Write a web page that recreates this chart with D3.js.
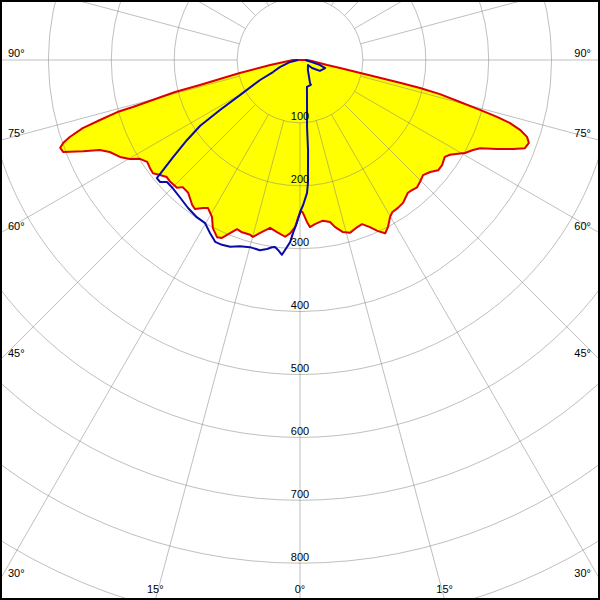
<!DOCTYPE html>
<html><head><meta charset="utf-8">
<script src="https://cdn.jsdelivr.net/npm/d3@7"></script>
<style>
html,body{margin:0;padding:0;background:#fff;}
svg{display:block;}
text{font-family:"Liberation Sans",Arial,sans-serif;font-size:11px;fill:#000;}
</style></head>
<body>
<svg id="chart" width="600" height="600"></svg>
<script>
// ---- data (angle from nadir in degrees, intensity in cd) ----
const redAngles = [-90,-80.5,-77.8,-76,-75.6,-74.3,-74.1,-73.3,-72.6,-71.5,-70.7,-69.9,-68.8,-67.2,-65.8,-64.2,-61.7,-59.8,-58.3,-56.3,-54.2,-52.4,-50.6,-48.7,-46.8,-43.9,-42.7,-40.1,-36.7,-35.2,-33.2,-31.9,-29.3,-27.4,-25.1,-23.7,-22,-20.4,-18.6,-15.9,-14.9,-13,-10.1,-7.6,-4.8,-3.3,-1.7,-0.7,0.4,1.1,2.5,3.4,5.2,8.1,10.5,11.8,14,16.1,18.8,20.7,22.7,24.5,26.2,27.8,29.8,31.2,33.5,35.8,39.1,40.7,42.6,44.5,46.9,49.3,51.4,53.5,56.2,57.7,59.3,60.6,62.5,63.9,65.7,67.3,68.6,70.1,71.3,72.4,73.3,73.9,74.5,75.3,76.3,76.9,77.2,78.7,79.5,85,90];
const redValues = [11,48,98,164,205,276,302,332,362,386,399,406,404,374,349,336,325,313,299,292,294,295,288,282,283,282,275,276,287,290,281,277,286,301,311,309,297,287,289,289,291,282,271,276,282,276,266,251,240,243,258,266,262,258,262,271,282,286,281,279,288,299,307,300,288,283,282,280,272,273,275,272,268,273,281,281,277,282,292,301,310,319,344,367,384,387,381,367,348,326,297,263,229,196,163,65,44,19,11];
const blueAngles = [-90,-78.7,-70.7,-66,-63.4,-59.7,-58,-56.6,-54.7,-52.6,-51.2,-50.5,-48.9,-47.5,-45.2,-41.2,-37.1,-33.3,-30.2,-27.5,-25,-22.9,-20.5,-17.9,-15,-11.9,-9.9,-8.5,-7.6,-6.6,-5.3,-4.5,-3.1,-2.3,-1.1,0,1.2,3,3.7,5.1,6,9.9,14.5,23.7,23.5,38.7,58,56.3,61.2,72.3,76,80.5,90];
const blueValues = [3,16,34,47,71,110,150,190,220,254,279,295,295,287,287,290,295,299,300,310,319,319,317,311,308,309,305,301,300,304,311,303,290,275,259,242,231,212,196,144,107,65,44,43,40,20,15,23,36,42,33,19,8];
const ringValues = [100,200,300,400,500,600,700,800,900,1000];
const ringLabels = ["100","200","300","400","500","600","700","800"];
const sideAngleLabels = [90,75,60,45,30];
const bottomAngleLabels = [-15,0,15];

// ---- layout ----
const W = 600, H = 600, cx = 300, cy = 60;
const r = d3.scaleLinear().domain([0,1000]).range([0,629]);
const toRad = d => (180 - d) * Math.PI / 180; // nadir-based angle -> d3 radial angle
const svg = d3.select("#chart");
const g = svg.append("g").attr("transform", `translate(${cx},${cy})`);

const red = redAngles.map((a,i)=>({a, v: redValues[i]}));
const blue = blueAngles.map((a,i)=>({a, v: blueValues[i]}));

// fill
g.append("path").datum(red)
  .attr("d", d3.lineRadial().angle(d=>toRad(d.a)).radius(d=>r(d.v)).curve(d3.curveLinearClosed))
  .attr("fill", "#ffff00").attr("stroke", "none");

// grid rings
g.selectAll("circle.ring").data(ringValues).enter().append("circle")
  .attr("r", d=>r(d)).attr("fill","none")
  .attr("stroke","#808080").attr("stroke-opacity",0.5).attr("stroke-width",1);

// spokes every 15 degrees, starting at the 100 ring
const spokes = d3.range(0,360,15);
g.selectAll("line.spoke").data(spokes).enter().append("line")
  .attr("x1", d=>r(100)*Math.sin(d*Math.PI/180))
  .attr("y1", d=>r(100)*Math.cos(d*Math.PI/180))
  .attr("x2", d=>1000*Math.sin(d*Math.PI/180))
  .attr("y2", d=>1000*Math.cos(d*Math.PI/180))
  .attr("stroke","#808080").attr("stroke-opacity",0.5).attr("stroke-width",1);

// curves
g.append("path").datum(red)
  .attr("d", d3.lineRadial().angle(d=>toRad(d.a)).radius(d=>r(d.v)).curve(d3.curveLinearClosed))
  .attr("fill","none").attr("stroke","#dd0000").attr("stroke-width",2).attr("stroke-linejoin","round");
g.append("path").datum(blue)
  .attr("d", d3.lineRadial().angle(d=>toRad(d.a)).radius(d=>r(d.v)))
  .attr("fill","none").attr("stroke","#0a0aa8").attr("stroke-width",2).attr("stroke-linejoin","round");

// ring labels
svg.selectAll("text.rl").data(ringLabels).enter().append("text")
  .attr("x", cx).attr("y", d=>cy + r(+d) - 2.5)
  .attr("text-anchor","middle").text(d=>d);

// side angle labels
sideAngleLabels.forEach(a=>{
  const ye = cy + cx / Math.tan(a*Math.PI/180);
  svg.append("text").attr("x",8).attr("y",ye-3).text(a+"°");
  svg.append("text").attr("x",591).attr("y",ye-3).attr("text-anchor","end").text(a+"°");
});
bottomAngleLabels.forEach(a=>{
  const xe = cx + (H-cy)*Math.tan(a*Math.PI/180);
  svg.append("text").attr("x",xe).attr("y",593).attr("text-anchor","middle").text(Math.abs(a)+"°");
});

// frame
svg.append("rect").attr("x",1).attr("y",1).attr("width",598).attr("height",598)
  .attr("fill","none").attr("stroke","#000").attr("stroke-width",2);
</script>
</body></html>
